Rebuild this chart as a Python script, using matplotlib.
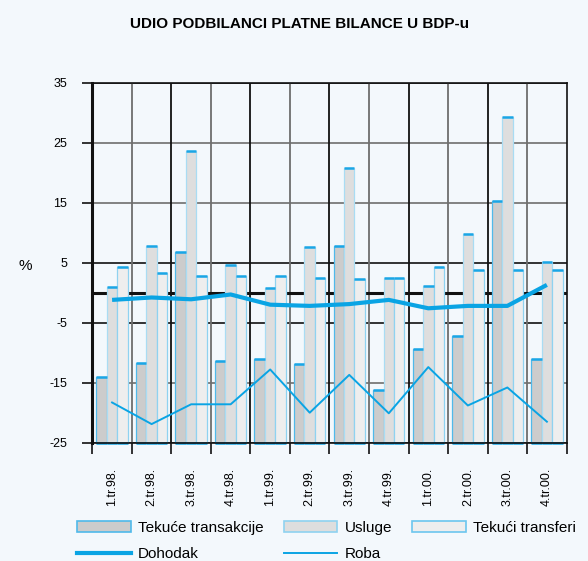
import numpy as np
import matplotlib
matplotlib.use('Agg')
from matplotlib import pyplot as plt
from matplotlib.patches import Patch
from matplotlib.lines import Line2D

plt.rcParams['font.family'] = ['Liberation Sans', 'DejaVu Sans']

# Data (% of GDP)
quarters = ['1.tr.98.', '2.tr.98.', '3.tr.98.', '4.tr.98.',
            '1.tr.99.', '2.tr.99.', '3.tr.99.', '4.tr.99.',
            '1.tr.00.', '2.tr.00.', '3.tr.00.', '4.tr.00.']
tekuce = [-14.0, -11.7, 6.8, -11.4, -11.0, -11.9, 7.7, -16.3, -9.4, -7.3, 15.3, -11.0]
usluge = [1.0, 7.8, 23.6, 4.6, 0.7, 7.6, 20.7, 2.4, 1.1, 9.8, 29.2, 5.1]
transferi = [4.3, 3.2, 2.7, 2.7, 2.8, 2.5, 2.2, 2.4, 4.3, 3.8, 3.8, 3.8]
dohodak = [-1.2, -0.8, -1.1, -0.3, -2.0, -2.2, -1.9, -1.2, -2.6, -2.2, -2.2, 1.3]
roba = [-18.3, -21.9, -18.6, -18.6, -12.8, -20.0, -13.7, -20.1, -12.4, -18.8, -15.8, -21.5]
yticks = [35, 25, 15, 5, -5, -15, -25]

bg = '#f3f8fc'
blue = '#0aa4e4'
ymin, ymax = -25, 35

fig = plt.figure(figsize=(5.88, 5.61), dpi=100, facecolor=bg)
ax = fig.add_axes([0.157, 0.2109, 0.8067, 0.6417], facecolor=bg)

x = np.arange(len(quarters))
w = 0.265

# grid (behind bars)
for i, yv in enumerate(yticks):
    col = '#111111' if yv in (35, 5, -5, -25) else '#6e6e6e'
    ax.axhline(yv, color=col, lw=1.2, zorder=0)
for b in range(1, len(quarters)):
    col = '#6e6e6e' if b % 2 else '#111111'
    ax.axvline(b - 0.5, color=col, lw=1.3, zorder=0)
ax.axhline(0, color='#111111', lw=2.2, zorder=0.5)

# bars start at the bottom of the axis
series = [(tekuce, -w, '#cccccc', '#4fb9ea'),
          (usluge, 0, '#dedede', '#a9dcf3'),
          (transferi, w, '#eeeeee', '#8fd2f0')]
for vals, off, fc, ec in series:
    vals = np.array(vals)
    ax.bar(x + off, vals - ymin, bottom=ymin, width=w, color=fc,
           edgecolor=ec, linewidth=0.9, zorder=2, clip_on=False)
    ax.hlines(vals, x + off - w / 2, x + off + w / 2, color='#1aa6e6', lw=1.8, zorder=2.5)
    ax.hlines(np.full(len(vals), ymin), x + off - w / 2, x + off + w / 2,
              color='#1aa6e6', lw=1.8, zorder=2.5, clip_on=False)

ax.plot(x, dohodak, color=blue, lw=3.0, zorder=3, solid_capstyle='butt')
ax.plot(x, roba, color=blue, lw=1.4, zorder=3)

ax.set_xlim(-0.5, len(quarters) - 0.5)
ax.set_ylim(ymin, ymax)
ax.set_yticks(yticks)
ax.set_yticklabels([str(v) for v in yticks], fontsize=9)
ax.tick_params(axis='y', length=7, width=1.2, pad=11, color='#111111')

ax.set_xticks(np.arange(len(quarters) + 1) - 0.5)
ax.set_xticklabels([])
ax.set_xticks(x, minor=True)
ax.set_xticklabels(quarters, minor=True, rotation=90, fontsize=9)
ax.tick_params(axis='x', which='major', length=8, width=1.2, color='#111111')
ax.tick_params(axis='x', which='minor', length=0, pad=18)

for s in ax.spines.values():
    s.set_color('#111111')
    s.set_linewidth(1.2)
ax.spines['left'].set_linewidth(2.2)

fig.text(0.51, 0.958, 'UDIO PODBILANCI PLATNE BILANCE U BDP-u', ha='center',
         va='center', fontsize=11, fontweight='bold')
fig.text(0.043, 0.525, '%', ha='center', va='center', fontsize=11)

# legend: column-wise order gives rows TT/Usluge/Transferi and Dohodak/Roba
handles = [Patch(facecolor='#cccccc', edgecolor='#4fb9ea', lw=1.2),
           Line2D([], [], color=blue, lw=3.0),
           Patch(facecolor='#dedede', edgecolor='#8fd2f0', lw=1.2),
           Line2D([], [], color=blue, lw=1.4),
           Patch(facecolor='#eeeeee', edgecolor='#6cc6ee', lw=1.2)]
labels = ['Tekuće transakcije', 'Dohodak', 'Usluge', 'Roba', 'Tekući transferi']
fig.legend(handles, labels, loc='upper left', bbox_to_anchor=(0.131, 0.072),
           ncol=3, frameon=False, fontsize=11, handlelength=3.5, handleheight=0.8,
           handletextpad=0.5, columnspacing=1.3, labelspacing=0.8,
           borderpad=0, borderaxespad=0)

fig.savefig('out.png', dpi=100, facecolor=bg)
